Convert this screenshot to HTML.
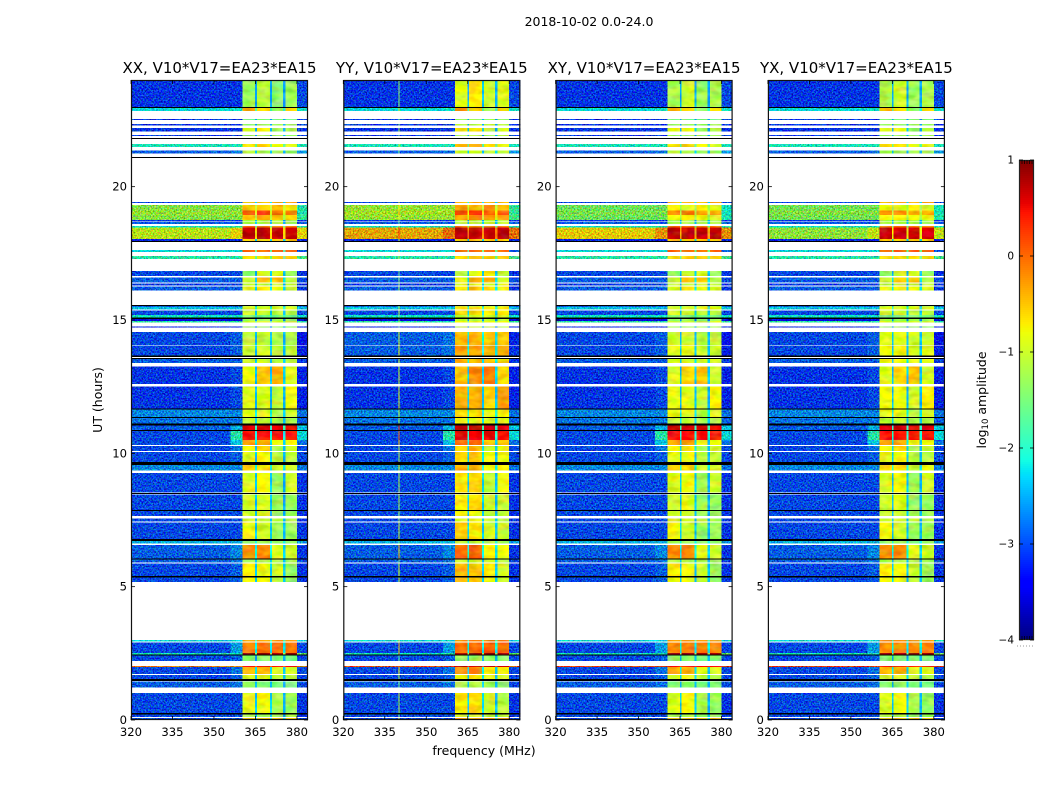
<!DOCTYPE html>
<html lang="en">
<head>
<meta charset="utf-8">
<title>2018-10-02 0.0-24.0</title>
<style>
html,body{margin:0;padding:0;background:#fff;}
svg{display:block;}
text{font-family:"DejaVu Sans","Liberation Sans",sans-serif;fill:#000;}
</style>
</head>
<body>
<svg id="chart" width="1050" height="800" viewBox="0 0 1050 800" xmlns="http://www.w3.org/2000/svg">
  <defs>
    <filter id="speckle" filterUnits="userSpaceOnUse" x="0" y="0" width="1050" height="800" color-interpolation-filters="sRGB">
      <feTurbulence type="fractalNoise" baseFrequency="0.62" numOctaves="2" seed="7" result="t"/>
      <feColorMatrix in="t" type="matrix" values="0 2.6 0 0 -0.8  2.6 0 0 0 -0.8  0 0 2.6 0 -0.8  0 0 0 0 1" result="n"/>
      <feComposite in="SourceGraphic" in2="n" operator="arithmetic" k1="0" k2="1" k3="0.52" k4="-0.36" result="m"/>
      <feComposite in="m" in2="SourceGraphic" operator="in"/>
    </filter>
    <filter id="mottle" filterUnits="userSpaceOnUse" x="0" y="0" width="1050" height="800" color-interpolation-filters="sRGB">
      <feTurbulence type="fractalNoise" baseFrequency="0.09 0.16" numOctaves="2" seed="3" result="t"/>
      <feColorMatrix in="t" type="matrix" values="2.4 0 0 0 -0.7  0 2.4 0 0 -0.7  0 0 2.4 0 -0.7  0 0 0 0 1" result="n"/>
      <feComposite in="SourceGraphic" in2="n" operator="arithmetic" k1="0" k2="1" k3="0.2" k4="-0.1" result="m"/>
      <feComposite in="m" in2="SourceGraphic" operator="in"/>
    </filter>
  </defs>
  <text x="589" y="26" font-size="12.5" text-anchor="middle">2018-10-02 0.0-24.0</text>
  <text x="484" y="755" font-size="12.5" text-anchor="middle">frequency (MHz)</text>
  <text x="102" y="400" font-size="12.5" text-anchor="middle" transform="rotate(-90 102 400)">UT (hours)</text>
  <text x="986" y="400" font-size="12.5" text-anchor="middle" transform="rotate(-90 986 400)">log<tspan font-size="8.5" dy="2">10</tspan><tspan dy="-2"> amplitude</tspan></text>
  <g id="panels"></g>
  <g id="colorbar"></g>
</svg>
<script>
// ---------- data (UT hours and log10 amplitude) ----------
const panelNames = ['XX', 'YY', 'XY', 'YX'];
const panelBaselines = ['V10*V17=EA23*EA15', 'V10*V17=EA23*EA15', 'V10*V17=EA23*EA15', 'V10*V17=EA23*EA15'];
const xTickValues = [320, 335, 350, 365, 380];
const yTickValues = [0, 5, 10, 15, 20];
const colorbarTicks = [1, 0, -1, -2, -3, -4];
// frequency edges (MHz): band, edge, lobe 1, gap, lobe 2, gap, lobe 3, gap, lobe 4, right
const freqEdges = [320, 356, 360.4, 364.9, 365.5, 370.2, 370.9, 374.9, 375.8, 380, 384];

const bandHigh = [24,22.99,22.54,22.35,22.2,21.94,21.6,21.35,19.43,19.31,19.1,18.94,18.75,18.67,18.52,18.47,18.04,17.63,17.4,16.83,16.59,16.37,16.25,15.56,15.5,15.35,15.18,15.04,14.97,14.75,14.55,14.03,13.54,13.25,12.5,11.65,11.35,11.05,10.84,10.5,10.28,10.05,9.56,9.27,8.46,7.83,7.56,7.4,6.72,6.57,6.03,5.86,5.34,3,2.9,2.52,2.43,2.03,1.98,1.69,1.44,1.02,0.21,0.08];
const bandLow = [22.99,22.84,22.5,22.29,22.06,21.9,21.49,21.25,19.38,19.1,18.94,18.75,18.69,18.6,18.47,18.04,17.97,17.55,17.29,16.65,16.4,16.29,16.1,15.5,15.4,15.18,15.1,14.97,14.91,14.71,14.05,13.66,13.38,12.6,11.69,11.37,11.12,10.88,10.5,10.31,10.09,9.68,9.35,8.54,7.88,7.65,7.44,6.78,6.62,6.06,5.9,5.4,5.17,2.95,2.52,2.46,2.22,1.98,1.73,1.53,1.22,0.27,0.12,0];
const bgLevel = [-3,-2.2,-3,-3,-3,-3,-2,-2.8,-2.9,-1.3,-1.2,-1.3,-3,-2.8,-2.1,-1,-3.1,-2.2,-1.9,-2.9,-2.8,-3,-2.8,-3.3,-2.3,-2.9,-2.1,-3.3,-1.9,-3.1,-2.9,-2.9,-2.8,-3,-3,-2.6,-2.7,-2.8,-2.9,-2.9,-2.9,-2.9,-2.6,-2.9,-2.9,-2.9,-2.9,-2.9,-2.4,-2.8,-2.8,-2.9,-2.9,-2.2,-2.9,-2,-2.9,-0.2,-2.9,-2.9,-2.8,-2.9,-2.9,-2.9];
const edgeLevel = [-3,-2.1,-3,-3,-3,-3,-2,-2.7,-2.9,-1.3,-1.2,-1.3,-3,-2.8,-2,-0.7,-3.1,-2.2,-1.9,-2.9,-2.8,-3,-2.8,-3.3,-2.3,-2.9,-2.1,-3.3,-1.9,-3.1,-2.8,-2.8,-2.8,-2.9,-2.9,-2.6,-2.7,-2.4,-1.9,-2.3,-2.7,-2.8,-2.6,-2.9,-2.9,-2.9,-2.9,-2.9,-2.4,-2.6,-2.7,-2.8,-2.8,-2.2,-2.5,-2,-2.8,-0.2,-2.7,-2.8,-2.7,-2.9,-2.9,-2.9];
const lobe1Level = [-1.3,-0.4,-1.5,-1.3,-0.9,-1.3,-0.6,-1.2,-0.4,-0.5,0.1,-0.5,-1.2,-1.2,-0.1,0.75,-0.5,0,-0.6,-1.4,-1,-1.1,-0.9,-1.3,-0.9,-1,-1.5,-1.3,-1,-1.3,-1.1,-1,-1,-0.8,-0.9,-0.9,-1.1,0.65,0.45,-0.3,-0.8,-0.9,-0.6,-0.9,-1,-1,-1,-0.8,-1.3,-0.2,-1.2,-0.7,-0.8,-0.3,-0.1,0.85,-1.4,0.4,-0.4,-0.9,-1.4,-0.9,-1.2,-0.5];
const lobe2Level = [-1.1,-0.6,-1.5,-1.3,-0.8,-1.3,-0.6,-1.2,-0.4,-0.6,0.15,-0.4,-1.2,-1.2,-0.1,0.7,-0.5,0,-0.6,-1,-0.5,-1.1,-0.7,-1.3,-0.9,-1,-1.5,-1.3,-1,-1.3,-1.1,-1,-1,-0.5,-0.9,-0.9,-1.1,0.65,0.45,-0.3,-0.6,-0.8,-0.6,-0.8,-0.9,-1,-1,-1,-1.3,-0.2,-1.2,-0.8,-0.8,-0.3,-0.1,0.85,-1.4,0.4,-0.4,-0.9,-1.4,-0.8,-1.2,-0.5];
const lobe3Level = [-1.4,-1.3,-1.5,-1.3,-1.3,-1.3,-0.8,-1.3,-0.4,-0.4,-0.1,-0.5,-1.2,-1.2,-0.1,0.7,-0.5,0,-0.6,-0.9,-0.5,-1.1,-0.8,-1.3,-0.9,-1.1,-1.5,-1.3,-1,-1.3,-1.2,-1.1,-1.1,-0.4,-1.1,-1.2,-1.2,0.6,0.45,-0.8,-1.2,-1.1,-1,-1.3,-1.3,-1.3,-1.1,-1.3,-1.4,-0.9,-1.2,-1,-1.1,-0.3,-0.05,0.85,-1.5,0.4,-0.9,-1.1,-1.5,-1.2,-1.3,-0.5];
const lobe4Level = [-1.3,-0.6,-1.5,-1.3,-1.2,-1.3,-0.9,-1.3,-0.4,-0.6,-0.1,-0.6,-1.2,-1.2,-0.1,0.7,-0.5,0,-0.6,-1.3,-1.1,-1.1,-1,-1.3,-0.9,-1.1,-1.5,-1.3,-1,-1.3,-1.2,-1.1,-1.1,-0.9,-0.8,-1,-1.2,0.55,0.4,-0.8,-1,-1.1,-0.9,-1,-1.3,-1.3,-1.2,-1.3,-1.4,-1,-1.3,-1.3,-1.3,-0.3,-0.1,0.85,-1.5,0.4,-0.9,-1.2,-1.5,-1.3,-1.3,-0.5];
const rightLevel = [-2.9,-2.1,-3,-3,-3,-3,-2,-2.5,-2.9,-1.9,-1.9,-1.8,-3,-2.8,-2,-0.7,-3.1,-2.8,-1.7,-3,-2.9,-3,-3,-3.3,-2.3,-2.9,-2.1,-3.3,-1.9,-3.1,-3.2,-3.1,-3,-3.1,-3.1,-2.7,-2.8,-2.3,-2.2,-2.7,-2.9,-2.9,-2.7,-3,-3,-3,-3,-3,-2.5,-3,-2.9,-3,-3,-2.2,-2.9,-1.5,-2.9,-0.2,-2.9,-2.9,-2.9,-3,-3,-2.9];

// per-polarisation offsets relative to XX, one per band
const lobeShiftXX = new Array(bandHigh.length).fill(0);
const lobeShiftYY = [0.4,0.1,0.2,0.2,0.2,0.1,0.1,0.2,0,0.2,0.1,0.2,0.1,0.1,0,0,0,0,0,0.2,0.1,0.2,0.2,0,0.2,0.4,0.5,0.2,0.2,0.2,0.7,0.7,0.6,0.3,0.5,0.3,0.3,0.05,0.1,0.3,0.2,0.3,0.2,0.2,0.3,0.2,0.1,0.3,0.2,0.2,0.2,0.3,0.3,0.1,0.1,0,0.1,0.3,0.2,0.2,0.2,0.2,0.2,0.2];
const lobeShiftXY = [0.1,0,0,0,0,0,0,0,0,-0.3,-0.25,-0.3,0,0,0,0,0,0,0,0,0,0,0,0,0,0,0,0,0,0,0.1,0.1,0.1,-0.1,0.05,0.05,0,0,0,0,0,0,0,0,0,0,0,0,0,0,0,0,0,0,-0.05,0,0,0,0,0,0,0,0,0];
const lobeShiftYX = [0.1,0,0,0,0,0,0,0,0,-0.3,-0.3,-0.3,0,0,0,-0.05,0,0,0,0,0,0,0,0,0,0,0,0,0,0,0.2,0.2,0.2,-0.1,0.1,0.05,0,0,0,0,0,0,0,0,0,0,0,0,0,0,0,0,0,0,-0.1,0,0,0,0,0,0,0,0,0];
const bgShiftXX = new Array(bandHigh.length).fill(0);
const bgShiftYY = [0,0,0,0,0,0,0,0,0,0.1,0.1,0.1,0,0,0,0.55,0,0,0,0,0,0,0,0,0,0,0,0,0,0,0.1,0.1,0,0,0,0,0,0,0,0,0,0,0,0,0,0,0,0,0,0,0,0,0,0,0,0,0,0.25,0,0,0,0,0,0];
const bgShiftXY = [0,0,0,0,0,0,0,0,0,-0.15,-0.15,-0.15,0,0,0,0.35,0,0,0,0,0,0,0,0,0,0,0,0,0,0,0,0,0,0,0,0,0,0,0,0,0,0,0,0,0,0,0,0,0,0,0,0,0,0,0,0,0,0.35,0,0,0,0,0,0];
const bgShiftYX = [0,0,0,0,0,0,0,0,0,-0.1,-0.1,-0.1,0,0,0,-0.25,0,0,0,0,0,0,0,0,0,0,0,0,0,0,0,0,0,0,0,0,0,0,0,0,0,0,0,0,0,0,0,0,0,0,0,0,0,0,0,0,0,0.35,0,0,0,0,0,0];
const lobeShifts = [lobeShiftXX, lobeShiftYY, lobeShiftXY, lobeShiftYX];
const bgShifts = [bgShiftXX, bgShiftYY, bgShiftXY, bgShiftYX];

// flagged integrations (drawn black), as UT high/low
const flagHigh = [22.99,21.82,21.12,17.97,15.56,15.1,13.66,13.58,11.69,11.37,11.12,10.88,9.68,8.51,7.88,6.78,6.06,5.4,2.46,1.53,0.27];
const flagLow = [22.96,21.79,21.1,17.93,15.54,15.04,13.62,13.54,11.65,11.35,11.05,10.84,9.56,8.47,7.83,6.72,6.03,5.34,2.42,1.47,0.21];
// narrow interference channel visible only in YY (MHz, level)
const yySpurFreqs = [340];
const yySpurLevels = [-1.6];

// ---------- geometry ----------
const panelLeft0 = 131, panelStep = 212.3, panelWidth = 177;
const plotTop = 80, plotBottom = 720;
const freqMin = 320, freqMax = 384, utMin = 0, utMax = 24;
const barLeft = 1019, barRight = 1034, barTop = 160, barBottom = 640, levelMin = -4, levelMax = 1;
const NS = 'http://www.w3.org/2000/svg';

function xScale(panel, f) {
  return panelLeft0 + panel * panelStep + (f - freqMin) / (freqMax - freqMin) * panelWidth;
}
function yScale(ut) {
  return plotBottom - (ut - utMin) / (utMax - utMin) * (plotBottom - plotTop);
}
function levelY(level) {
  return barBottom - (level - levelMin) / (levelMax - levelMin) * (barBottom - barTop);
}
function ramp(t, pts) {
  for (let i = 1; i < pts.length; i++) {
    if (t <= pts[i][0]) {
      const a = pts[i - 1], b = pts[i];
      return a[1] + (b[1] - a[1]) * (t - a[0]) / (b[0] - a[0]);
    }
  }
  return pts[pts.length - 1][1];
}
function jet(level) {
  const t = Math.max(0, Math.min(1, (level - levelMin) / (levelMax - levelMin)));
  const r = ramp(t, [[0, 0], [0.35, 0], [0.66, 1], [0.89, 1], [1, 0.5]]);
  const g = ramp(t, [[0, 0], [0.125, 0], [0.375, 1], [0.64, 1], [0.91, 0], [1, 0]]);
  const b = ramp(t, [[0, 0.5], [0.11, 1], [0.34, 1], [0.65, 0], [1, 0]]);
  return 'rgb(' + Math.round(r * 255) + ',' + Math.round(g * 255) + ',' + Math.round(b * 255) + ')';
}
function svgEl(tag, attrs, parent, txt) {
  const el = document.createElementNS(NS, tag);
  for (const k in attrs) el.setAttribute(k, attrs[k]);
  if (txt !== undefined) el.textContent = txt;
  parent.appendChild(el);
  return el;
}
function cell(group, panel, f0, f1, hi, lo, level) {
  const x0 = xScale(panel, f0), x1 = xScale(panel, f1);
  const y0 = yScale(hi), y1 = yScale(lo);
  const el = svgEl('rect', {x: x0.toFixed(2), y: y0.toFixed(2), width: (x1 - x0).toFixed(2), height: (y1 - y0).toFixed(2), fill: jet(level)}, group);
  
  
  return el;
}

const panelsRoot = document.getElementById('panels');
panelNames.forEach(function (name, p) {
  const g = svgEl('g', {}, panelsRoot);
  
  

  const left = xScale(p, freqMin), right = xScale(p, freqMax);
  const noisy = svgEl('g', {filter: 'url(#speckle)', 'shape-rendering': 'crispEdges'}, g);
  
  
  const smooth = svgEl('g', {filter: 'url(#mottle)', 'shape-rendering': 'crispEdges'}, g);
  
  

  bandHigh.forEach(function (hi, i) {
    const lo = bandLow[i];
    const ls = lobeShifts[p][i], bs = bgShifts[p][i];
    const bg = bgLevel[i] + bs;
    cell(noisy, p, freqEdges[0], freqEdges[1], hi, lo, bg);
    cell(noisy, p, freqEdges[1], freqEdges[2], hi, lo, edgeLevel[i] + bs);
    const lobes = [lobe1Level[i], lobe2Level[i], lobe3Level[i], lobe4Level[i]];
    lobes.forEach(function (lv, k) {
      const start = 2 + k * 2;
      cell(smooth, p, freqEdges[start], freqEdges[start + 1], hi, lo, lv + ls);
      if (k < 3) {
        const gap = bg * 0.75 + (lv + ls) * 0.25;
        cell(smooth, p, freqEdges[start + 1], freqEdges[start + 2], hi, lo, gap);
      }
    });
    cell(noisy, p, freqEdges[9], freqEdges[10], hi, lo, rightLevel[i] + bs);
    if (p === 1) {
      yySpurFreqs.forEach(function (f, s) {
        cell(smooth, p, f, f + 0.4, hi, lo, Math.max(yySpurLevels[s], lobes[0] + ls - 0.5));
      });
    }
  });

  flagHigh.forEach(function (hi, i) {
    const line = svgEl('rect', {x: left.toFixed(2), y: yScale(hi).toFixed(2), width: (right - left).toFixed(2), height: Math.max(1, yScale(flagLow[i]) - yScale(hi)).toFixed(2), fill: '#000', 'shape-rendering': 'crispEdges'}, g);
    
    
  });

  const frame = svgEl('rect', {x: (left + 0.5).toFixed(1), y: plotTop + 0.5, width: (right - left - 1).toFixed(1), height: plotBottom - plotTop - 1, fill: 'none', stroke: '#111', 'stroke-width': 1.2}, g);
  
  

  const title = svgEl('text', {x: ((left + right) / 2).toFixed(1), y: 73, 'font-size': 15, 'text-anchor': 'middle'}, g, name + ', ' + panelBaselines[p]);
  
  

  xTickValues.forEach(function (v) {
    const x = xScale(p, v);
    const t1 = svgEl('line', {x1: x, x2: x, y1: plotBottom, y2: plotBottom - 4, stroke: '#000', 'stroke-width': 0.8}, g);
    
    
    const t2 = svgEl('line', {x1: x, x2: x, y1: plotTop, y2: plotTop + 4, stroke: '#000', 'stroke-width': 0.8}, g);
    
    
    const lab = svgEl('text', {x: x.toFixed(1), y: 736, 'font-size': 11.6, 'text-anchor': 'middle'}, g, String(v));
    
    
  });
  yTickValues.forEach(function (v) {
    const y = yScale(v);
    const t1 = svgEl('line', {x1: left, x2: left + 4, y1: y, y2: y, stroke: '#000', 'stroke-width': 0.8}, g);
    
    
    const t2 = svgEl('line', {x1: right, x2: right - 4, y1: y, y2: y, stroke: '#000', 'stroke-width': 0.8}, g);
    
    
    const lab = svgEl('text', {x: (left - 4).toFixed(1), y: (y + 4).toFixed(1), 'font-size': 11.6, 'text-anchor': 'end'}, g, String(v));
    
    
  });
});

// colorbar
const barRoot = document.getElementById('colorbar');
const barFill = svgEl('g', {'shape-rendering': 'crispEdges'}, barRoot);


for (let py = barTop; py < barBottom; py += 2) {
  const lv = levelMax - (py + 1 - barTop) / (barBottom - barTop) * (levelMax - levelMin);
  const seg = svgEl('rect', {x: barLeft, y: py, width: barRight - barLeft, height: 2, fill: jet(lv)}, barFill);
  
  
}
const barFrame = svgEl('rect', {x: barLeft + 0.5, y: barTop + 0.5, width: barRight - barLeft - 1, height: barBottom - barTop - 1, fill: 'none', stroke: '#222', 'stroke-width': 1.2}, barRoot);


for (let hx = barLeft + 3; hx < barRight - 1; hx += 2.5) {
  const hatchTop = svgEl('line', {x1: hx, x2: hx, y1: barTop, y2: barTop + 4, stroke: '#000', 'stroke-width': 0.7}, barRoot);
  
  
  const hatchBottom = svgEl('line', {x1: hx, x2: hx, y1: barBottom, y2: barBottom - 4, stroke: '#000', 'stroke-width': 0.7}, barRoot);
  
  
}
colorbarTicks.forEach(function (v) {
  const y = levelY(v);
  const a = svgEl('line', {x1: barLeft, x2: barLeft + 4, y1: y, y2: y, stroke: '#000', 'stroke-width': 0.8}, barRoot);
  
  
  const b = svgEl('line', {x1: barRight, x2: barRight - 4, y1: y, y2: y, stroke: '#000', 'stroke-width': 0.8}, barRoot);
  
  
  const lab = svgEl('text', {x: 1014, y: (y + 3.5).toFixed(1), 'font-size': 10.5, 'text-anchor': 'end'}, barRoot, String(v).replace('-', '\u2212'));
  
  
});
const dots = svgEl('line', {x1: 1017, x2: 1035, y1: 646, y2: 646, stroke: '#999', 'stroke-width': 1, 'stroke-dasharray': '1 2'}, barRoot);


</script>
</body>
</html>
